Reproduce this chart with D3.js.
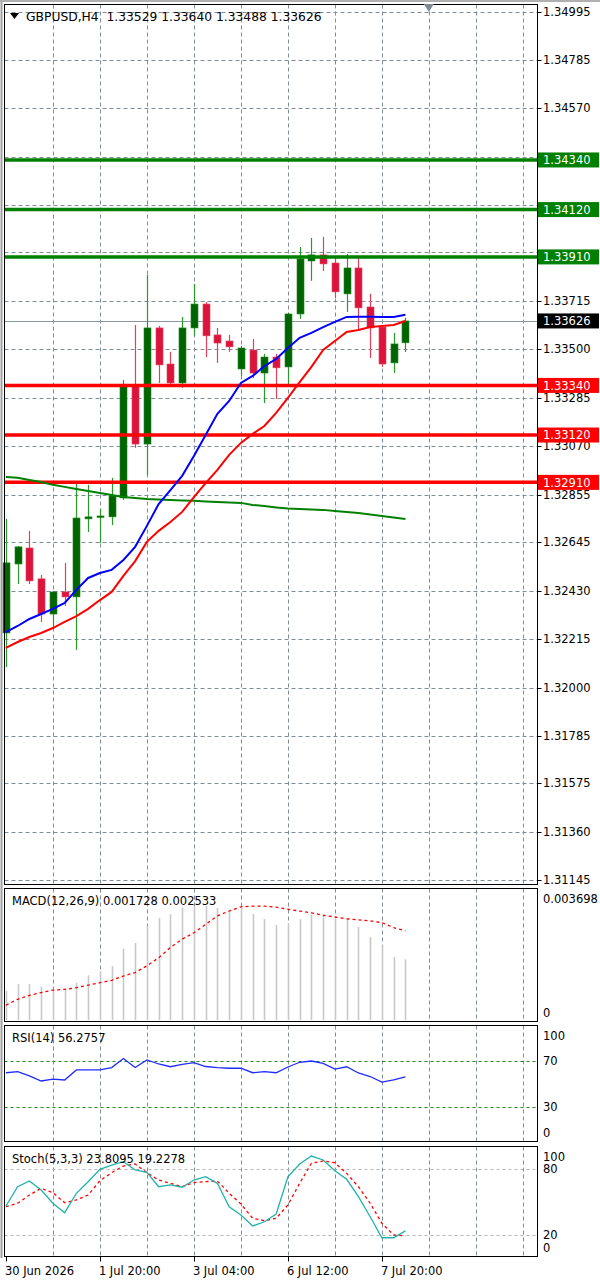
<!DOCTYPE html>
<html>
<head>
<meta charset="utf-8">
<script src="https://cdn.jsdelivr.net/npm/d3@7"></script>
<style>
  body { margin: 0; background: #fff; }
  svg text { font-family: "DejaVu Sans", sans-serif; font-size: 11.5px; fill: #000; }
</style>
</head>
<body>
<div id="chart-area"></div>
<script>
// GBPUSD H4 - candles, MAs, MACD, RSI, Stochastic

const barTimes = ['30 Jun 12:00', '30 Jun 16:00', '30 Jun 20:00', '1 Jul 00:00', '1 Jul 04:00', '1 Jul 08:00',
  '1 Jul 12:00', '1 Jul 16:00', '1 Jul 20:00', '2 Jul 00:00', '2 Jul 04:00', '2 Jul 08:00', '2 Jul 12:00',
  '2 Jul 16:00', '2 Jul 20:00', '3 Jul 00:00', '3 Jul 04:00', '3 Jul 08:00', '3 Jul 12:00', '3 Jul 16:00',
  '3 Jul 20:00', '6 Jul 00:00', '6 Jul 04:00', '6 Jul 08:00', '6 Jul 12:00', '6 Jul 16:00', '6 Jul 20:00',
  '7 Jul 00:00', '7 Jul 04:00', '7 Jul 08:00', '7 Jul 12:00', '7 Jul 16:00', '7 Jul 20:00', '8 Jul 00:00',
  '8 Jul 04:00'];
const axisLabels = ['30 Jun 2026', '1 Jul 20:00', '3 Jul 04:00', '6 Jul 12:00', '7 Jul 20:00'];
const axisLabelBars = [0, 8, 16, 24, 32];

const openPrices = [1.32242, 1.32548, 1.32619, 1.32482, 1.32326, 1.32424, 1.32402, 1.32748, 1.32757, 1.32757,
  1.32841, 1.33342, 1.33080, 1.33595, 1.33435, 1.33351, 1.33595, 1.33701, 1.33564, 1.33537,
  1.33413, 1.33497, 1.33395, 1.33466, 1.33422, 1.33657, 1.33892, 1.33919, 1.33883, 1.33746,
  1.33861, 1.33688, 1.33599, 1.33440, 1.33529];
const highPrices = [1.32748, 1.32628, 1.32695, 1.32499, 1.32428, 1.32553, 1.32907, 1.32899, 1.32792, 1.32930,
  1.33364, 1.33608, 1.33830, 1.33604, 1.33489, 1.33644, 1.33790, 1.33710, 1.33595, 1.33564,
  1.33515, 1.33546, 1.33480, 1.33480, 1.33662, 1.33954, 1.33994, 1.33999, 1.33914, 1.33923,
  1.33910, 1.33746, 1.33608, 1.33573, 1.33640];
const lowPrices = [1.32091, 1.32459, 1.32459, 1.32291, 1.32260, 1.32362, 1.32167, 1.32690, 1.32641, 1.32721,
  1.32832, 1.33063, 1.32943, 1.33351, 1.33342, 1.33329, 1.33560, 1.33466, 1.33440, 1.33489,
  1.33382, 1.33373, 1.33262, 1.33280, 1.33347, 1.33635, 1.33804, 1.33848, 1.33728, 1.33666,
  1.33586, 1.33462, 1.33422, 1.33395, 1.33488];
const closePrices = [1.32553, 1.32624, 1.32473, 1.32326, 1.32424, 1.32402, 1.32752, 1.32757, 1.32761, 1.32850,
  1.33342, 1.33080, 1.33595, 1.33431, 1.33351, 1.33595, 1.33701, 1.33560, 1.33528, 1.33511,
  1.33506, 1.33395, 1.33466, 1.33418, 1.33657, 1.33901, 1.33919, 1.33879, 1.33755, 1.33861,
  1.33684, 1.33595, 1.33435, 1.33524, 1.33626];

const maFast = [1.32246, 1.32273, 1.32304, 1.32326, 1.32349, 1.32375, 1.32433, 1.32486, 1.32508, 1.32522,
  1.32566, 1.32624, 1.32717, 1.32814, 1.32876, 1.32939, 1.33027, 1.33120, 1.33214, 1.33271,
  1.33351, 1.33382, 1.33426, 1.33457, 1.33506, 1.33551, 1.33573, 1.33599, 1.33622, 1.33644,
  1.33645, 1.33645, 1.33644, 1.33644, 1.33653];
const maMid = [1.32176, 1.32202, 1.32224, 1.32242, 1.32264, 1.32291, 1.32317, 1.32349, 1.32388, 1.32424,
  1.32495, 1.32561, 1.32646, 1.32695, 1.32734, 1.32779, 1.32845, 1.32907, 1.32965, 1.33032,
  1.33085, 1.33125, 1.33160, 1.33218, 1.33285, 1.33355, 1.33422, 1.33497, 1.33537, 1.33577,
  1.33586, 1.33599, 1.33604, 1.33608, 1.33626];
const maSlow = [1.32934, 1.32930, 1.32921, 1.32912, 1.32899, 1.32890, 1.32881, 1.32872, 1.32863, 1.32854,
  1.32845, 1.32841, 1.32836, 1.32834, 1.32832, 1.32830, 1.32828, 1.32825, 1.32823, 1.32821,
  1.32819, 1.32810, 1.32805, 1.32799, 1.32794, 1.32792, 1.32790, 1.32788, 1.32783, 1.32779,
  1.32774, 1.32768, 1.32761, 1.32754, 1.32748];

const macdHist = [0.00083, 0.00102, 0.00102, 0.00094, 0.00087, 0.00085, 0.00106, 0.00127, 0.00139, 0.00153,
  0.00203, 0.00219, 0.00267, 0.00290, 0.00301, 0.00320, 0.00324, 0.00324, 0.00319, 0.00307,
  0.00321, 0.00302, 0.00287, 0.00270, 0.00276, 0.00287, 0.00299, 0.00296, 0.00293, 0.00287,
  0.00265, 0.00236, 0.00213, 0.00179, 0.001728];
const macdSignal = [0.00042, 0.00059, 0.00070, 0.00078, 0.00085, 0.00087, 0.00092, 0.00099, 0.00106, 0.00113,
  0.00125, 0.00135, 0.00154, 0.00177, 0.00206, 0.00230, 0.00248, 0.00272, 0.00296, 0.00310,
  0.00322, 0.00324, 0.00324, 0.00321, 0.00315, 0.00310, 0.00305, 0.00298, 0.00293, 0.00288,
  0.00285, 0.00282, 0.00277, 0.00263, 0.002533];

const rsiValues = [59.8, 60.7, 57.0, 52.6, 54.3, 53.5, 62.2, 62.2, 62.3, 64.3,
  72.2, 64.3, 70.9, 67.4, 65.0, 67.1, 68.5, 65.2, 64.3, 63.7,
  63.7, 59.8, 60.7, 59.8, 64.8, 68.9, 70.0, 68.0, 63.0, 65.0,
  59.6, 56.5, 51.7, 53.5, 56.2757];

const stochMain = [46.5, 64.1, 69.3, 61.1, 49.0, 40.4, 58.1, 68.7, 80.0, 83.9,
  86.9, 79.4, 77.3, 64.1, 65.7, 63.6, 70.2, 73.2, 67.2, 45.8,
  38.3, 28.2, 32.1, 39.2, 73.2, 84.8, 92.1, 88.5, 78.7, 70.9,
  55.0, 36.7, 17.5, 17.5, 23.8095];
const stochSignal = [45.8, 49.0, 56.5, 62.6, 58.6, 49.5, 52.0, 56.5, 69.6, 76.9,
  83.0, 84.8, 76.9, 70.2, 67.2, 64.1, 67.8, 68.7, 69.3, 58.1,
  48.3, 35.3, 33.1, 35.3, 47.4, 67.2, 85.5, 87.6, 86.0, 76.3,
  64.1, 49.0, 30.7, 20.0, 19.2278];

const priceTicks = [1.34995, 1.34785, 1.34570, 1.34355, 1.34140, 1.33930, 1.33715, 1.33500, 1.33285, 1.33070,
  1.32855, 1.32645, 1.32430, 1.32215, 1.32000, 1.31785, 1.31575, 1.31360, 1.31145];
const resistanceLevels = [1.34340, 1.34120, 1.33910];
const supportLevels = [1.33340, 1.33120, 1.32910];
const lastPrice = 1.33626;
const macdTicks = [0.003698, 0];
const rsiTicks = [100, 70, 30, 0];
const rsiLevels = [70, 30];
const stochTicks = [100, 80, 20, 0];
const stochLevels = [80, 20];

const W = 600, H = 1280;
const left = 4.5, right = 537.5;
const panels = {
  main: { top: 4.5, bottom: 884.5 },
  macd: { top: 888.5, bottom: 1021.5 },
  rsi: { top: 1025.5, bottom: 1141.5 },
  stoch: { top: 1146.5, bottom: 1256.5 }
};

const svg = d3.select('#chart-area')
  .append('svg')
  .attr('width', W)
  .attr('height', H);

svg.append('rect').attr('width', W).attr('height', H).attr('fill', '#fff');

const x = d3.scaleLinear().domain([0, 44]).range([5.9, 5.9 + 11.75 * 44]);
const y = d3.scaleLinear().domain([1.31145, 1.34995]).range([880.3, 12.3]);
const yMacd = d3.scaleLinear().domain([0, 0.003698]).range([1020, 890]);
const yRsi = d3.scaleLinear().domain([0, 100]).range([1141.5, 1026.5]);
const yStoch = d3.scaleLinear().domain([0, 100]).range([1256.9, 1147.4]);

const gridColor = '#7f8c99';
const gridBars = d3.range(4, 45, 4);
const idx = d3.range(barTimes.length);

// vertical grid in every panel
Object.values(panels).forEach((p) => {
  svg.append('g').selectAll('line')
    .data(gridBars)
    .enter()
    .append('line')
    .attr('x1', (i) => Math.round(x(i)) + 0.5)
    .attr('x2', (i) => Math.round(x(i)) + 0.5)
    .attr('y1', p.top)
    .attr('y2', p.bottom)
    .attr('stroke', gridColor)
    .attr('stroke-dasharray', '4,3');
});

// horizontal price grid
svg.append('g').selectAll('line')
  .data(priceTicks)
  .enter()
  .append('line')
  .attr('x1', left)
  .attr('x2', right)
  .attr('y1', (v) => Math.round(y(v)) + 0.5)
  .attr('y2', (v) => Math.round(y(v)) + 0.5)
  .attr('stroke', gridColor)
  .attr('stroke-dasharray', '4,3');

// current price line
svg.append('line')
  .attr('x1', left).attr('x2', right)
  .attr('y1', Math.round(y(lastPrice)) + 0.5)
  .attr('y2', Math.round(y(lastPrice)) + 0.5)
  .attr('stroke', '#8a96a3');

// candles
const candles = svg.append('g').selectAll('g')
  .data(idx)
  .enter()
  .append('g');

candles.append('line')
  .attr('x1', (i) => Math.round(x(i)) + 0.5)
  .attr('x2', (i) => Math.round(x(i)) + 0.5)
  .attr('y1', (i) => y(highPrices[i]))
  .attr('y2', (i) => y(lowPrices[i]))
  .attr('stroke', (i) => closePrices[i] >= openPrices[i] ? '#2a9a2a' : '#e0405c')
  .attr('stroke-width', 1.2);

candles.append('rect')
  .attr('x', (i) => Math.round(x(i)) - 3)
  .attr('width', 7)
  .attr('y', (i) => y(Math.max(openPrices[i], closePrices[i])))
  .attr('height', (i) => Math.max(1.5, Math.abs(y(openPrices[i]) - y(closePrices[i]))))
  .attr('fill', (i) => closePrices[i] >= openPrices[i] ? '#006400' : '#dc143c')
  .attr('stroke', (i) => closePrices[i] >= openPrices[i] ? '#1f8a1f' : '#e0405c')
  .attr('stroke-width', 0.6);

// horizontal levels
const levels = resistanceLevels.map((v) => ({ v: v, c: '#008000' }))
  .concat(supportLevels.map((v) => ({ v: v, c: '#ff0000' })));

svg.append('g').selectAll('line')
  .data(levels)
  .enter()
  .append('line')
  .attr('x1', left).attr('x2', right)
  .attr('y1', (d) => y(d.v))
  .attr('y2', (d) => y(d.v))
  .attr('stroke', (d) => d.c)
  .attr('stroke-width', 3.5);

// moving averages
const maLine = (arr) => d3.line()
  .x((i) => x(i))
  .y((i) => y(arr[i]))(idx);

svg.append('path').attr('d', maLine(maSlow)).attr('fill', 'none').attr('stroke', '#008000').attr('stroke-width', 2);
svg.append('path').attr('d', maLine(maMid)).attr('fill', 'none').attr('stroke', '#ff0000').attr('stroke-width', 2);
svg.append('path').attr('d', maLine(maFast)).attr('fill', 'none').attr('stroke', '#0000ff').attr('stroke-width', 2);

// MACD
svg.append('g').selectAll('line')
  .data(idx)
  .enter()
  .append('line')
  .attr('x1', (i) => Math.round(x(i)) + 0.5)
  .attr('x2', (i) => Math.round(x(i)) + 0.5)
  .attr('y1', yMacd(0))
  .attr('y2', (i) => yMacd(macdHist[i]))
  .attr('stroke', '#c8c8c8')
  .attr('stroke-width', 1.6);

svg.append('path')
  .attr('d', d3.line().x((i) => x(i)).y((i) => yMacd(macdSignal[i]))(idx))
  .attr('fill', 'none')
  .attr('stroke', '#ff0000')
  .attr('stroke-width', 1.3)
  .attr('stroke-dasharray', '3,3');

// RSI
svg.append('g').selectAll('line')
  .data(rsiLevels)
  .enter()
  .append('line')
  .attr('x1', left).attr('x2', right)
  .attr('y1', (v) => Math.round(yRsi(v)) + 0.5)
  .attr('y2', (v) => Math.round(yRsi(v)) + 0.5)
  .attr('stroke', '#1a8a1a')
  .attr('stroke-dasharray', '3,3');

svg.append('path')
  .attr('d', d3.line().x((i) => x(i)).y((i) => yRsi(rsiValues[i]))(idx))
  .attr('fill', 'none')
  .attr('stroke', '#1e2cff')
  .attr('stroke-width', 1.3);

// Stochastic
svg.append('g').selectAll('line')
  .data(stochLevels)
  .enter()
  .append('line')
  .attr('x1', left).attr('x2', right)
  .attr('y1', (v) => Math.round(yStoch(v)) + 0.5)
  .attr('y2', (v) => Math.round(yStoch(v)) + 0.5)
  .attr('stroke', '#b4b4b4')
  .attr('stroke-dasharray', '3,3');

svg.append('path')
  .attr('d', d3.line().x((i) => x(i)).y((i) => yStoch(stochSignal[i]))(idx))
  .attr('fill', 'none')
  .attr('stroke', '#ff0000')
  .attr('stroke-width', 1.3)
  .attr('stroke-dasharray', '3,3');

svg.append('path')
  .attr('d', d3.line().x((i) => x(i)).y((i) => yStoch(stochMain[i]))(idx))
  .attr('fill', 'none')
  .attr('stroke', '#20b2aa')
  .attr('stroke-width', 1.3);

// panel frames
Object.values(panels).forEach((p) => {
  svg.append('rect')
    .attr('x', left).attr('y', p.top)
    .attr('width', right - left).attr('height', p.bottom - p.top)
    .attr('fill', 'none')
    .attr('stroke', '#000');
});
svg.append('line').attr('x1', 1.5).attr('x2', 1.5).attr('y1', 0).attr('y2', 1258).attr('stroke', '#a0a0a0').attr('stroke-width', 2);
svg.append('line').attr('x1', 0).attr('x2', W).attr('y1', 1).attr('y2', 1).attr('stroke', '#b0b0b0').attr('stroke-width', 2);

// chart shift marker
svg.append('path')
  .attr('d', d3.line()([[x(36) - 5, 4], [x(36) + 5, 4], [x(36), 12]]))
  .attr('fill', '#7f8a96');

// price axis
const priceAxis = svg.append('g');
priceAxis.selectAll('line')
  .data(priceTicks)
  .enter()
  .append('line')
  .attr('x1', right).attr('x2', right + 4)
  .attr('y1', (v) => Math.round(y(v)) + 0.5)
  .attr('y2', (v) => Math.round(y(v)) + 0.5)
  .attr('stroke', '#000');
priceAxis.selectAll('text')
  .data(priceTicks.filter((v) => !levels.some((d) => Math.abs(y(d.v) - y(v)) < 8)))
  .enter()
  .append('text')
  .attr('x', 543)
  .attr('y', (v) => y(v))
  .attr('dy', '0.36em')
  .text((v) => v.toFixed(5));

// level boxes
const boxes = svg.append('g').selectAll('g')
  .data(levels.concat([{ v: lastPrice, c: '#000' }]))
  .enter()
  .append('g');
boxes.append('rect')
  .attr('x', 538).attr('width', 61)
  .attr('y', (d) => y(d.v) - 7.5)
  .attr('height', 15)
  .attr('fill', (d) => d.c);
boxes.append('text')
  .attr('x', 543)
  .attr('y', (d) => y(d.v))
  .attr('dy', '0.36em')
  .style('fill', '#fff')
  .text((d) => d.v.toFixed(5));

// indicator axes (labels kept inside the panel)
const sideLabels = (ticks, scale, p, fmt) => {
  svg.append('g').selectAll('text')
    .data(ticks)
    .enter()
    .append('text')
    .attr('x', 543)
    .attr('y', (v) => Math.min(Math.max(scale(v), p.top + 10), p.bottom - 9))
    .attr('dy', '0.36em')
    .text(fmt);
};
sideLabels(macdTicks, yMacd, panels.macd, (v) => v === 0 ? '0' : v.toFixed(6));
sideLabels(rsiTicks, yRsi, panels.rsi, (v) => v);
sideLabels(stochTicks, yStoch, panels.stoch, (v) => v);

// time axis
svg.append('g').selectAll('line')
  .data(axisLabelBars)
  .enter()
  .append('line')
  .attr('x1', (i) => Math.round(x(i)) + 0.5)
  .attr('x2', (i) => Math.round(x(i)) + 0.5)
  .attr('y1', panels.stoch.bottom)
  .attr('y2', panels.stoch.bottom + 5)
  .attr('stroke', '#000');
svg.append('g').selectAll('text')
  .data(axisLabelBars)
  .enter()
  .append('text')
  .attr('x', (i) => x(i) - 1)
  .attr('y', 1275)
  .text((i, k) => axisLabels[k]);

// titles
svg.append('path')
  .attr('d', d3.line()([[10, 13], [19, 13], [14.5, 19]]))
  .attr('fill', '#000');
svg.append('text').attr('x', 26).attr('y', 21).style('white-space', 'pre').style('font-size', '12.3px')
  .text('GBPUSD,H4  ' + [openPrices, highPrices, lowPrices, closePrices].map((a) => a[a.length - 1].toFixed(5)).join(' '));
svg.append('text').attr('x', 12).attr('y', 905)
  .text('MACD(12,26,9) ' + macdHist[macdHist.length - 1].toFixed(6) + ' ' + macdSignal[macdSignal.length - 1].toFixed(6));
svg.append('text').attr('x', 12).attr('y', 1042)
  .text('RSI(14) ' + rsiValues[rsiValues.length - 1].toFixed(4));
svg.append('text').attr('x', 12).attr('y', 1163)
  .text('Stoch(5,3,3) ' + stochMain[stochMain.length - 1].toFixed(4) + ' ' + stochSignal[stochSignal.length - 1].toFixed(4));
</script>
</body>
</html>
